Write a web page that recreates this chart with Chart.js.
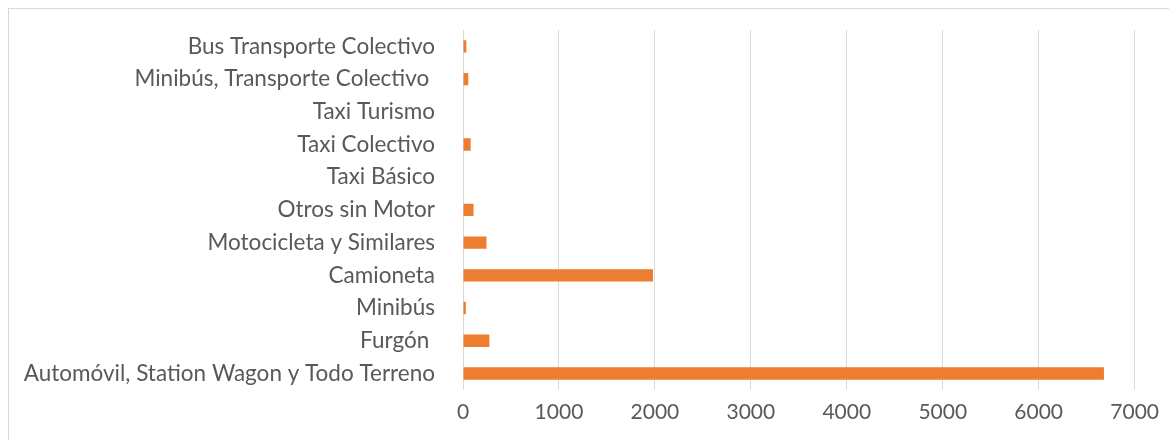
<!DOCTYPE html>
<html>
<head>
<meta charset="utf-8">
<script src="https://cdn.jsdelivr.net/npm/chart.js@4"></script>
<style>
    html, body { margin: 0; padding: 0; background: #fff; overflow: hidden; }
    #wrap { position: relative; width: 1169px; height: 440px; }
    #frame { position: absolute; left: 8px; top: 8px; width: 1200px; height: 500px; border: 1px solid #d9d9d9; }
    canvas { position: absolute; left: 0; top: 0; }
</style>
</head>
<body>
<div id="wrap">
    <div id="frame"></div>
    <canvas id="chart" width="1169" height="440"></canvas>
</div>
<script>
// vehicle categories, top to bottom as in the picture
const categories = [
    "Bus Transporte Colectivo",
    "Minibús, Transporte Colectivo ",
    "Taxi Turismo",
    "Taxi Colectivo",
    "Taxi Básico",
    "Otros sin Motor",
    "Motocicleta y Similares",
    "Camioneta",
    "Minibús",
    "Furgón ",
    "Automóvil, Station Wagon y Todo Terreno"
];
const vehicles = [35, 55, 0, 80, 0, 110, 245, 1980, 30, 275, 6680];
const xTicks = [0, 1000, 2000, 3000, 4000, 5000, 6000, 7000];

const ctx = document.getElementById("chart").getContext("2d");
new Chart(ctx, {
    type: "bar",
    data: {
        labels: categories,
        datasets: [
            {
                data: vehicles,
                backgroundColor: "#ED7D31",
                barPercentage: 0.9,
                categoryPercentage: 0.42,
            },
        ],
    },
    options: {
        indexAxis: "y",
        responsive: false,
        animation: false,
        layout: { padding: { top: 30, right: 34, bottom: 5, left: 0 } },
        plugins: { legend: { display: false }, tooltip: { enabled: false } },
        scales: {
            x: {
                min: 0,
                max: 7000,
                afterBuildTicks: (scale) => {
                    scale.ticks = xTicks.map((v) => ({ value: v }));
                },
                grid: { color: "#d9d9d9", lineWidth: 1, drawTicks: false },
                border: { display: false },
                ticks: {
                    padding: 10,
                    color: "#595959",
                    font: { family: "Lato", size: 21 },
                    callback: (v) => String(v),
                },
            },
            y: {
                afterFit: (scale) => {
                    scale.width = 463;
                },
                // tick marks are hidden; their length only sets the label gap
                grid: { display: false, drawTicks: true, tickLength: 28 },
                border: { display: false },
                ticks: {
                    padding: 0,
                    color: "#595959",
                    font: { family: "Lato", size: 22.5 },
                },
            },
        },
    },
});
</script>
</body>
</html>
